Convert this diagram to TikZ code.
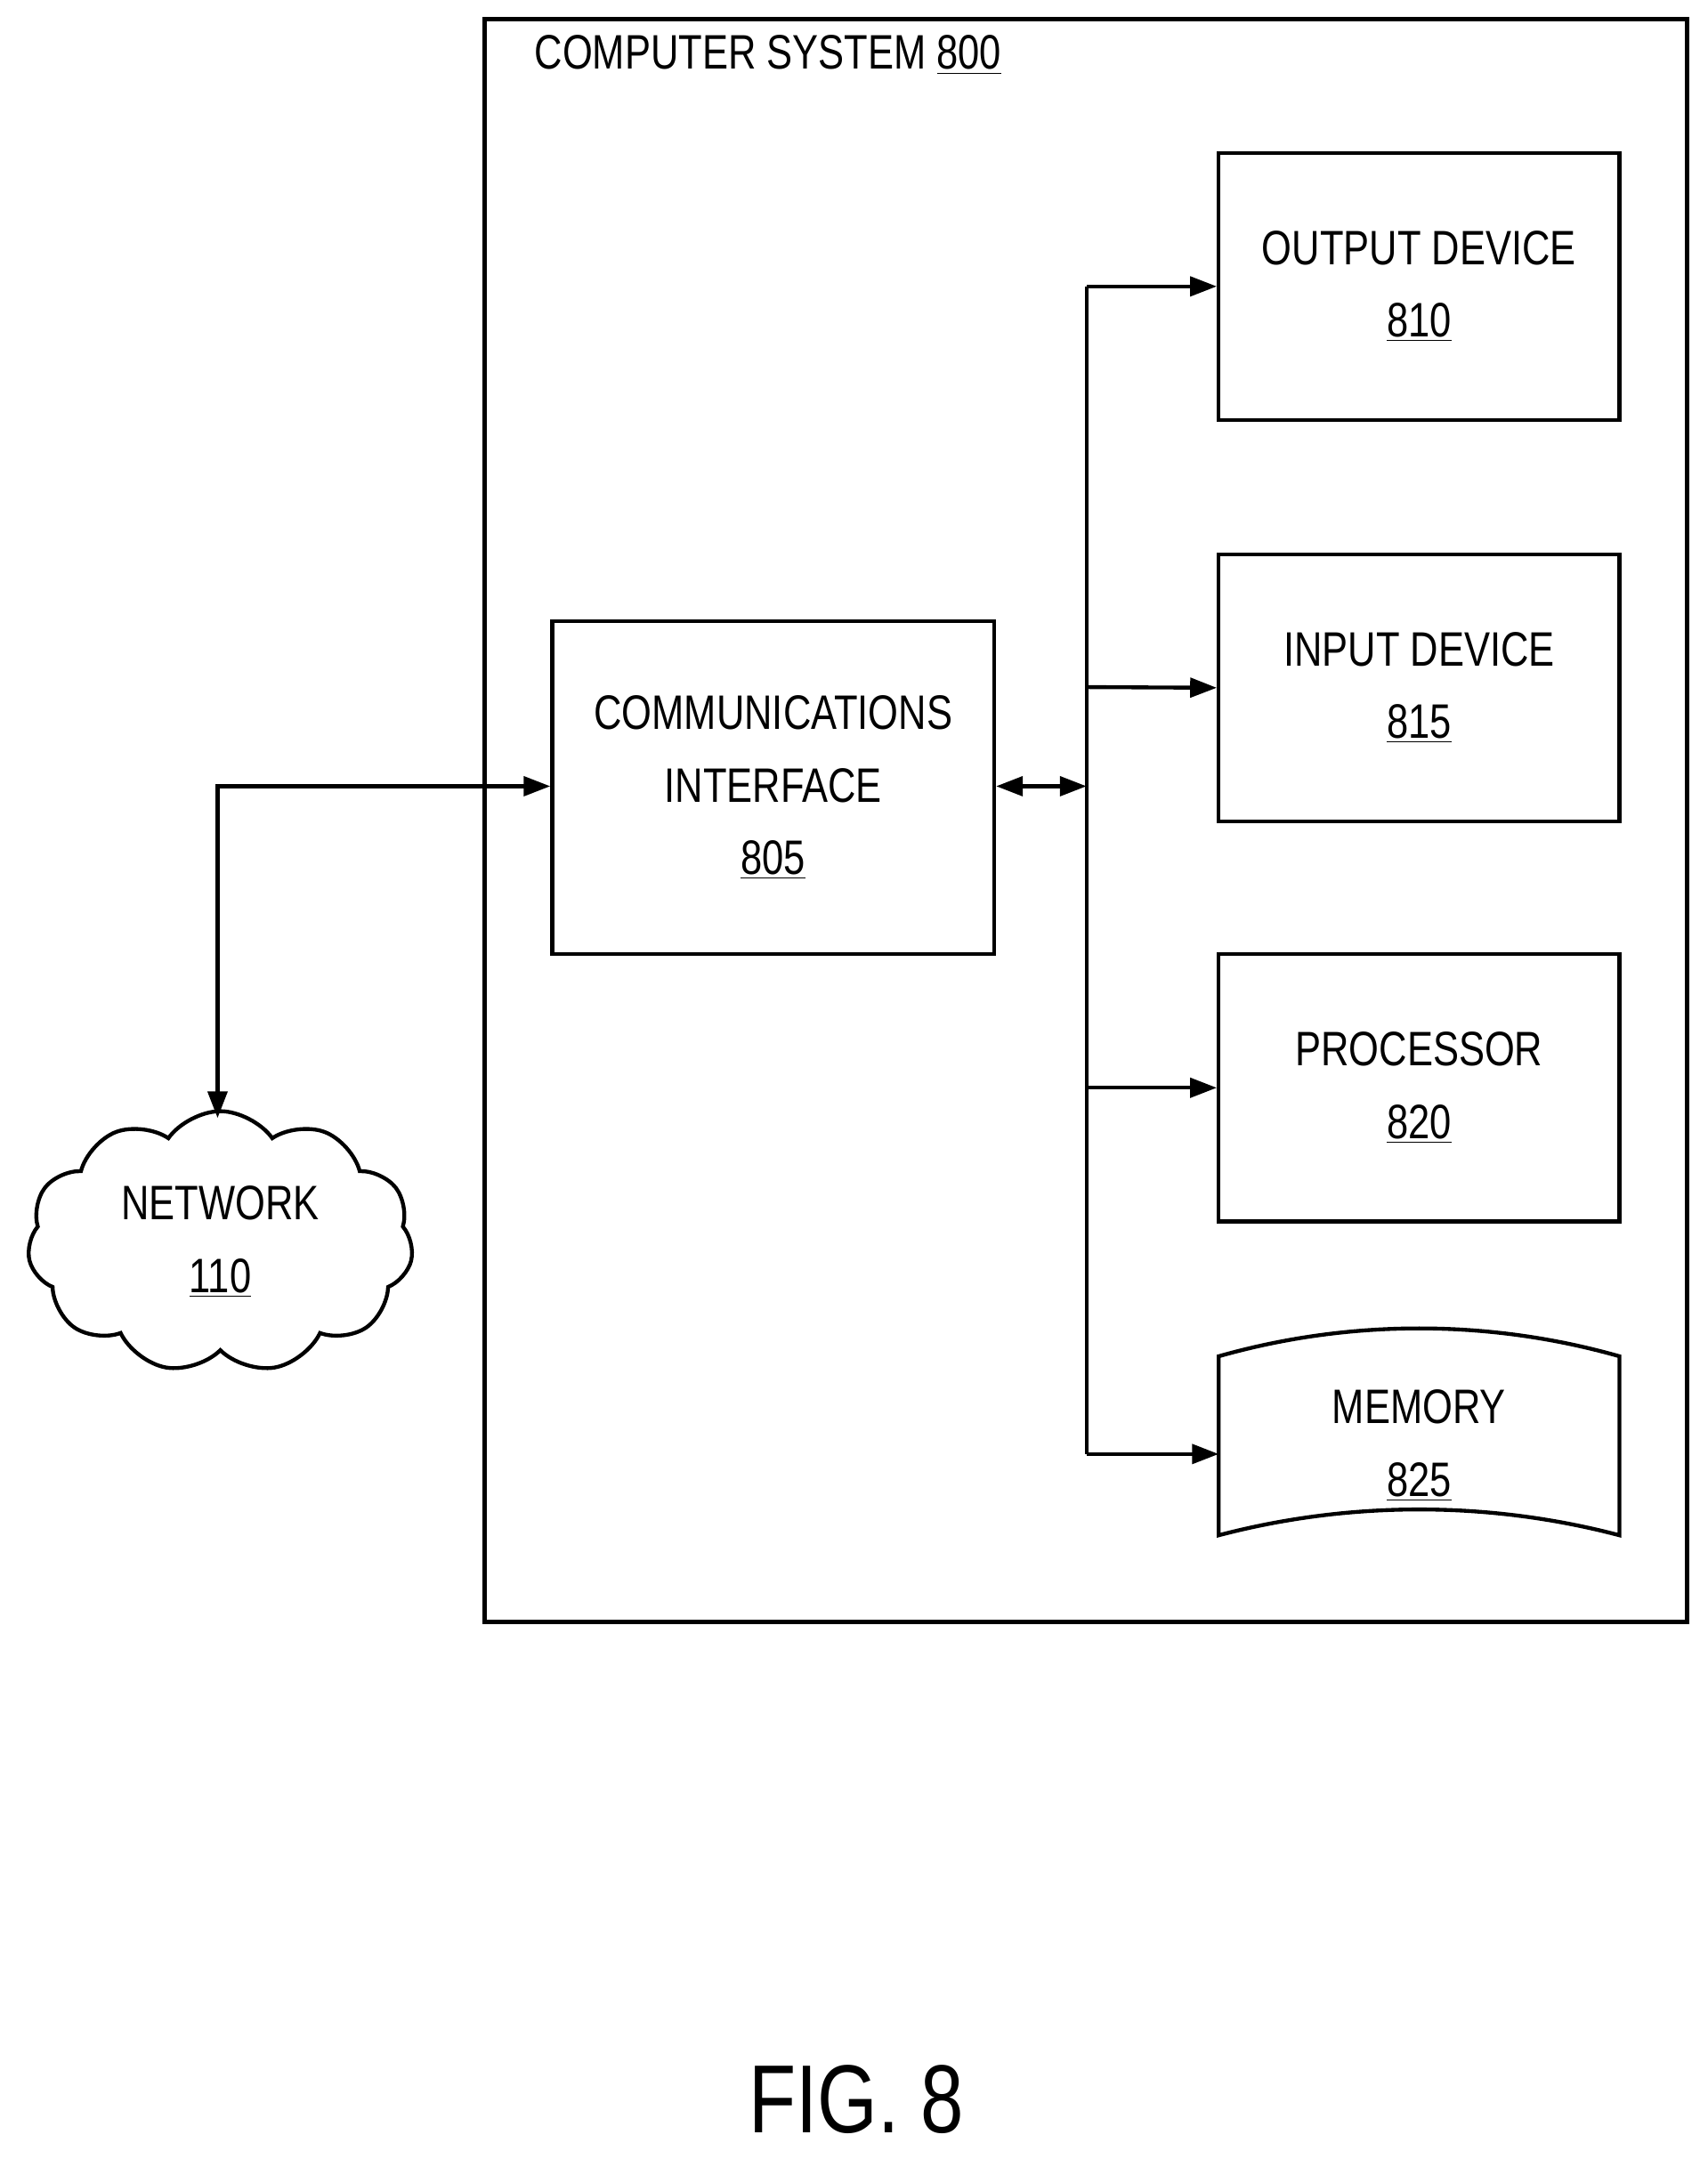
\documentclass[tikz,border=0pt]{standalone}
\usepackage{fontspec}
\setmainfont{Liberation Sans}[FakeStretch=0.8]
\usetikzlibrary{shapes.symbols,arrows.meta}
\begin{document}
\begin{tikzpicture}[x=0.02cm,y=-0.02cm,
  box/.style={draw,line width=1.6pt,minimum width=291*0.02cm,minimum height=194*0.02cm,align=center,font=\fontsize{20}{30}\selectfont,inner sep=0},
  arr/.style={line width=1.6pt,-{Triangle[length=11pt,width=8pt]}},
  lbl/.style={font=\fontsize{20}{30}\selectfont,align=center}]
\useasboundingbox (0,0) rectangle (1240,1568);
\draw[line width=1.6pt] (352,14) rectangle (1225,1178);
\node[lbl,anchor=west] (title) at (382,40) {COMPUTER SYSTEM \underline{800}};
\node[box,minimum width=321*0.02cm,minimum height=242*0.02cm] (comm) at (561.5,572) {COMMUNICATIONS\\INTERFACE\\\underline{805}};
\node[box] (out) at (1030.5,208) {OUTPUT DEVICE\\\underline{810}};
\node[box] (in) at (1030.5,499.5) {INPUT DEVICE\\\underline{815}};
\node[box] (proc) at (1030.5,790) {PROCESSOR\\\underline{820}};
\node[lbl,minimum width=291*0.02cm,minimum height=140*0.02cm,inner sep=0] (mem) at (1030.5,1050) {MEMORY\\\underline{825}};
\draw[line width=1.6pt] (885,985) .. controls (980,958) and (1081,958) .. (1176,985) -- (1176,1115) .. controls (1081,1090) and (980,1090) .. (885,1115) -- cycle;
\node[cloud,draw,line width=1.6pt,cloud puffs=11,cloud puff arc=110,aspect=1.5,minimum width=280*0.02cm,minimum height=190*0.02cm,lbl] (net) at (160,902) {NETWORK\\\underline{110}};
\coordinate (b0) at (789,208);
\coordinate (b1) at (789,1056);
\coordinate (bm) at (789,571);
\coordinate (nc) at (158,571);
\draw[line width=1.6pt] (b0) -- (b1);
\draw[arr] (b0) -- (out.west|-b0);
\draw[arr] (789,499) -- (in.west|-in.center);
\draw[arr] (789,790) -- (proc.west|-proc.center);
\draw[arr] (b1) -- (885,1056);
\draw[line width=1.6pt,{Triangle[length=11pt,width=8pt]}-{Triangle[length=11pt,width=8pt]}] (comm.east|-bm) -- (bm);
\draw[line width=1.6pt,{Triangle[length=11pt,width=8pt]}-{Triangle[length=11pt,width=8pt]}] (comm.west|-bm) -- (nc) -- (158,812);
\node[font=\fontsize{40}{48}\selectfont] (fig) at (622,1525) {FIG. 8};
\end{tikzpicture}
\end{document}
